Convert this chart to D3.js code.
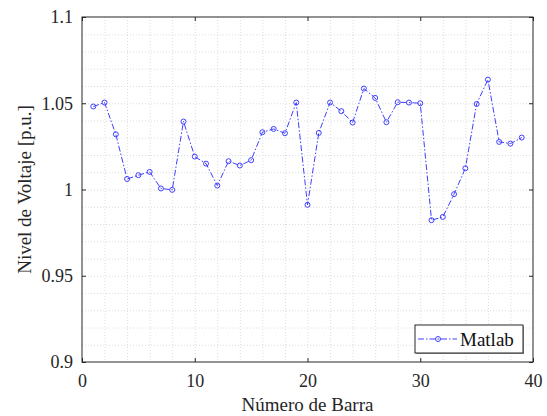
<html>
<head>
<meta charset="utf-8">
<script src="https://d3js.org/d3.v7.min.js"></script>
<style>
  body { margin: 0; background: #fff; }
  .grid line { stroke: #dcdcdc; stroke-dasharray: 1 2; stroke-width: 1; }
  .grid .domain { stroke: none; }
</style>
</head>
<body>
<svg id="plot" width="547" height="416"></svg>
<script>
// data
const barras = d3.range(1, 40);
const voltaje = [1.0481, 1.0504, 1.0320, 1.0061, 1.0083, 1.0102, 1.0006, 0.9998, 1.0394, 1.0191,
                 1.0150, 1.0023, 1.0164, 1.0139, 1.0170, 1.0332, 1.0351, 1.0326, 1.0504, 0.9911,
                 1.0328, 1.0504, 1.0454, 1.0388, 1.0585, 1.0531, 1.0390, 1.0506, 1.0504, 1.0500,
                 0.9822, 0.9841, 0.9973, 1.0123, 1.0496, 1.0637, 1.0276, 1.0266, 1.0301];
const xTicks = [0, 10, 20, 30, 40];
const yTicks = [0.9, 0.95, 1, 1.05, 1.1];
const serie = 'Matlab';

const font = '"Liberation Serif", "Times New Roman", serif';
const margin = {left: 82, top: 17, right: 14, bottom: 54};
const svg = d3.select('svg#plot');
const W = +svg.attr('width'), H = +svg.attr('height');
const iw = W - margin.left - margin.right;
const ih = H - margin.top - margin.bottom;
const axisColor = '#262626';
const lineColor = '#3f3fff';

const x = d3.scaleLinear().domain([0, 40]).range([0, iw]);
const y = d3.scaleLinear().domain([0.9, 1.1]).range([ih, 0]);

const g = svg.append('g').attr('transform', `translate(${margin.left},${margin.top})`);

// minor + major grid
g.append('g').attr('class', 'grid')
  .call(d3.axisBottom(x).tickValues(d3.range(2, 40, 2)).tickSize(ih).tickFormat(''));
g.append('g').attr('class', 'grid')
  .call(d3.axisLeft(y).tickValues(d3.range(1, 20).map(i => 0.9 + i * 0.01)).tickSize(-iw).tickFormat(''));

// axes box
function styleAxis(sel) {
  sel.select('.domain').remove();
  sel.selectAll('line').attr('stroke', axisColor);
  sel.selectAll('text')
    .style('font-size', '18px')
    .style('font-family', font)
    .attr('fill', axisColor);
}
g.append('g').attr('transform', `translate(0,${ih})`)
  .call(d3.axisBottom(x).tickValues(xTicks).tickSizeInner(-4).tickSizeOuter(0).tickPadding(12).tickFormat(d3.format('d')))
  .call(styleAxis);
g.append('g')
  .call(d3.axisTop(x).tickValues(xTicks).tickSizeInner(-4).tickSizeOuter(0).tickFormat(''))
  .call(styleAxis);
g.append('g')
  .call(d3.axisLeft(y).tickValues(yTicks).tickSizeInner(-4).tickSizeOuter(0).tickPadding(9).tickFormat(d => d3.format('')(d)))
  .call(styleAxis);
g.append('g').attr('transform', `translate(${iw},0)`)
  .call(d3.axisRight(y).tickValues(yTicks).tickSizeInner(-4).tickSizeOuter(0).tickFormat(''))
  .call(styleAxis);
g.append('rect').attr('width', iw).attr('height', ih)
  .attr('fill', 'none').attr('stroke', axisColor).attr('stroke-width', 1);

// series
const line = d3.line().x((d, i) => x(barras[i])).y(d => y(d));
g.append('path').datum(voltaje)
  .attr('d', line)
  .attr('fill', 'none')
  .attr('stroke', lineColor)
  .attr('stroke-width', 1)
  .attr('stroke-dasharray', '6 2 1.5 2');
g.selectAll('circle.pt').data(voltaje).join('circle')
  .attr('class', 'pt')
  .attr('cx', (d, i) => x(barras[i]))
  .attr('cy', d => y(d))
  .attr('r', 2.5)
  .attr('fill', 'none')
  .attr('stroke', lineColor)
  .attr('stroke-width', 1);

// legend
const lg = g.append('g').attr('transform', `translate(${iw - 118},${ih - 37})`);
lg.append('rect').attr('x', 1).attr('y', 1).attr('width', 108).attr('height', 28)
  .attr('fill', '#999');
lg.append('rect').attr('width', 108).attr('height', 28)
  .attr('fill', '#fff').attr('stroke', axisColor).attr('stroke-width', 1);
lg.append('line').attr('x1', 3).attr('x2', 42).attr('y1', 14).attr('y2', 14)
  .attr('stroke', lineColor).attr('stroke-dasharray', '6 2 1.5 2');
lg.append('circle').attr('cx', 23).attr('cy', 14).attr('r', 2.5)
  .attr('fill', 'none').attr('stroke', lineColor);
lg.append('text').attr('x', 45).attr('y', 21)
  .style('font-size', '19px').style('font-family', font).attr('fill', '#111')
  .text(serie);

// axis labels
svg.append('text')
  .attr('x', margin.left + iw / 2).attr('y', 411)
  .attr('text-anchor', 'middle')
  .style('font-size', '19px').style('font-family', font).attr('fill', axisColor)
  .text('Número de Barra');
svg.append('text')
  .attr('transform', `translate(31,${margin.top + ih / 2}) rotate(-90)`)
  .attr('text-anchor', 'middle')
  .style('font-size', '19px').style('font-family', font).attr('fill', axisColor)
  .text('Nivel de Voltaje [p.u.]');
</script>
</body>
</html>
